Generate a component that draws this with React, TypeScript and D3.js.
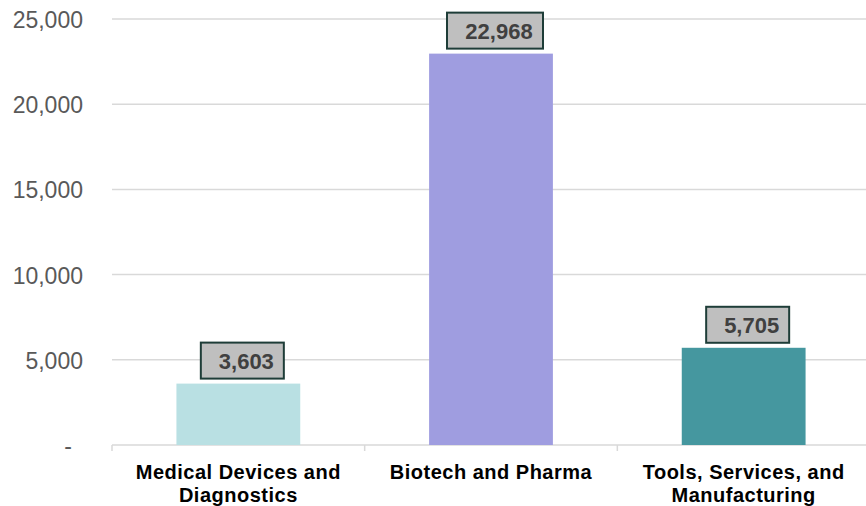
import React from "react";
import * as d3 from "d3";

const categories: string[][] = [
  ["Medical Devices and", "Diagnostics"],
  ["Biotech and Pharma"],
  ["Tools, Services, and", "Manufacturing"],
];
const values: number[] = [3603, 22968, 5705];
const barColors: string[] = ["#b9e0e3", "#9f9de0", "#45979f"];
const yTicks: number[] = [0, 5000, 10000, 15000, 20000, 25000];
const yTickLabels: string[] = ["-", "5,000", "10,000", "15,000", "20,000", "25,000"];

const W = 866;
const H = 506;
const left = 112;
const right = 870;
const top = 19;
const bottom = 445;

export default function App() {
  const keys = categories.map((_, i) => String(i));
  const x = d3.scaleBand<string>().domain(keys).range([left, right]).paddingInner(0.51).paddingOuter(0.255);
  const y = d3.scaleLinear().domain([0, 25000]).range([bottom, top]);
  const fmt = d3.format(",");
  const font = "'Liberation Sans', Arial, sans-serif";
  const boundaries = d3.range(categories.length + 1).map((i) => left + i * x.step());

  return (
    <svg width={W} height={H} style={{ position: "absolute", left: 0, top: 0, display: "block" }} fontFamily={font}>
      <rect x={0} y={0} width={W} height={H} fill="#ffffff" />
      {yTicks.map((t, i) => (
        <g key={t}>
          <line x1={left} x2={W} y1={y(t)} y2={y(t)} stroke="#d9d9d9" strokeWidth={1.5} />
          <text
            x={t === 0 ? 68 : 83}
            y={y(t) + 1}
            textAnchor={t === 0 ? "middle" : "end"}
            dominantBaseline="central"
            fontSize={23}
            fill="#595959"
          >
            {yTickLabels[i]}
          </text>
        </g>
      ))}
      {boundaries.map((bx, i) => (
        <line key={i} x1={bx} x2={bx} y1={bottom} y2={bottom + 6} stroke="#d9d9d9" strokeWidth={1.5} />
      ))}
      {values.map((v, i) => {
        const bx = x(String(i))!;
        const bw = x.bandwidth();
        const cx = bx + bw / 2;
        const label = fmt(v);
        const boxW = label.length * 13 + 18;
        const boxH = 36;
        const yTop = y(v);
        return (
          <g key={i}>
            <rect x={bx} y={yTop} width={bw} height={bottom - yTop} fill={barColors[i]} />
            <rect
              x={cx - boxW / 2 + 4}
              y={yTop - 5 - boxH}
              width={boxW}
              height={boxH}
              fill="#bfbfbf"
              stroke="#1e3d38"
              strokeWidth={2}
            />
            <text
              x={cx + 8}
              y={yTop - 5 - boxH / 2 + 1}
              textAnchor="middle"
              dominantBaseline="central"
              fontSize={22}
              fontWeight="bold"
              fill="#404040"
            >
              {label}
            </text>
            {categories[i].map((line, j) => (
              <text
                key={j}
                x={cx}
                y={479 + j * 23}
                textAnchor="middle"
                fontSize={20}
                fontWeight="bold"
                letterSpacing={0.5}
                fill="#000000"
              >
                {line}
              </text>
            ))}
          </g>
        );
      })}
    </svg>
  );
}
